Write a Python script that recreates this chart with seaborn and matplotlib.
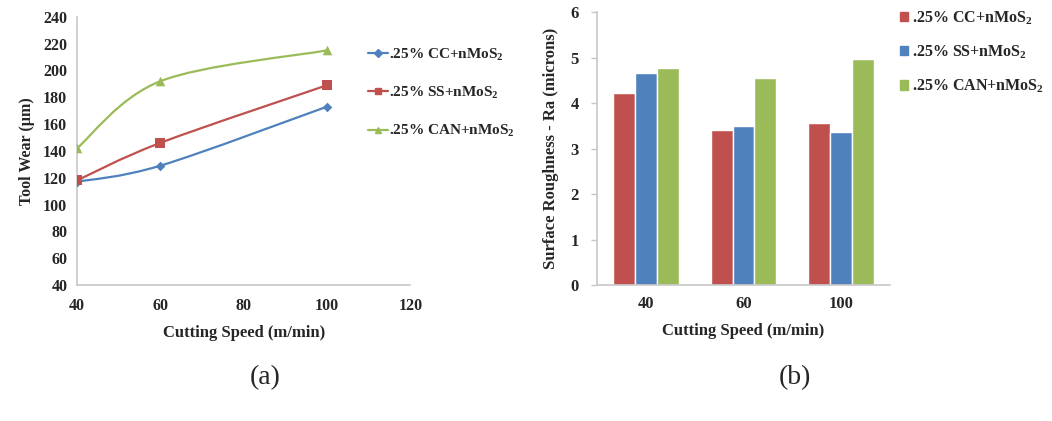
import numpy as np
import pandas as pd
import matplotlib
matplotlib.use('Agg')
import matplotlib.pyplot as plt
from matplotlib.path import Path
from matplotlib.patches import PathPatch, Patch
from matplotlib.lines import Line2D
import seaborn as sns

### data
speeds = [40, 60, 100]
series = ['.25% CC+nMoS$_2$', '.25% SS+nMoS$_2$', '.25% CAN+nMoS$_2$']
tool_wear_cc = [117, 129, 173]
tool_wear_ss = [118, 146, 189]
tool_wear_can = [142, 192, 215]
rough_cc = [4.21, 3.40, 3.56]
rough_ss = [4.67, 3.50, 3.36]
rough_can = [4.77, 4.54, 4.97]

colors = ['#4F81BD', '#C0504D', '#9BBB59']
bar_colors = ['#C0504D', '#4F81BD', '#9BBB59']

sns.set_style('white')
plt.rcParams['font.family'] = ['Liberation Serif', 'DejaVu Serif']
plt.rcParams['font.weight'] = 'bold'
plt.rcParams['mathtext.fontset'] = 'custom'
plt.rcParams['mathtext.rm'] = 'Liberation Serif:bold'
plt.rcParams['mathtext.it'] = 'Liberation Serif:bold'
plt.rcParams['mathtext.bf'] = 'Liberation Serif:bold'
plt.rcParams['mathtext.default'] = 'rm'

wear = pd.DataFrame({
    'speed': speeds * 3,
    'wear': tool_wear_cc + tool_wear_ss + tool_wear_can,
    'series': [s for s in series for _ in speeds],
})
rough = pd.DataFrame({
    'speed': [str(v) for v in speeds] * 3,
    'ra': rough_cc + rough_ss + rough_can,
    'series': [s for s in series for _ in speeds],
})

fig = plt.figure(figsize=(10.52, 4.21), dpi=100)
ax1 = fig.add_axes([0.0732, 0.323, 0.3168, 0.637])
ax2 = fig.add_axes([0.5675, 0.323, 0.2785, 0.6485])

### (a) tool wear, smoothed lines like excel
def smooth_path(xs, ys):
    pts = np.column_stack([xs, ys]).astype(float)
    n = len(pts)
    verts = [pts[0]]
    codes = [Path.MOVETO]
    for i in range(n - 1):
        p_prev = pts[max(i - 1, 0)]
        p_next2 = pts[min(i + 2, n - 1)]
        c1 = pts[i] + (pts[i + 1] - p_prev) / 6
        c2 = pts[i + 1] - (p_next2 - pts[i]) / 6
        verts += [c1, c2, pts[i + 1]]
        codes += [Path.CURVE4] * 3
    return Path(verts, codes)

for s, c in zip(series, colors):
    sub = wear[wear['series'] == s]
    ax1.add_patch(PathPatch(smooth_path(sub['speed'], sub['wear']), fill=False,
                            edgecolor=c, lw=1.6, zorder=2))

marks = {series[0]: 'D', series[1]: 's', series[2]: '^'}
sizes = {series[0]: 24, series[1]: 60, series[2]: 48}
for s, c in zip(series, colors):
    sub = wear[wear['series'] == s]
    sns.scatterplot(data=sub, x='speed', y='wear', color=c, marker=marks[s],
                    s=sizes[s], edgecolor=c, linewidth=0, ax=ax1, legend=False, zorder=3)

ax1.set_xlim(40, 120)
ax1.set_ylim(40, 240)
ax1.set_xticks(range(40, 121, 20))
ax1.set_yticks(range(40, 241, 20))
ax1.set_xlabel('Cutting Speed (m/min)', fontsize=12, fontweight='bold', labelpad=8)
ax1.set_ylabel('Tool Wear (µm)', fontsize=11.5, fontweight='bold', labelpad=6)
ax1.tick_params(axis='both', length=0, labelsize=11.5)
ax1.tick_params(axis='y', pad=7)
ax1.tick_params(axis='x', pad=9)
for side in ['top', 'right']:
    ax1.spines[side].set_visible(False)
for side in ['left', 'bottom']:
    ax1.spines[side].set_color('#C8C8C8')
    ax1.spines[side].set_linewidth(1.2)

handles1 = [Line2D([], [], color=c, marker=marks[s], markersize=5 if s != series[0] else 4,
                   lw=1.6) for s, c in zip(series, colors)]
fig.legend(handles1, series, loc='upper left', bbox_to_anchor=(0.337, 0.922),
           frameon=False, fontsize=11, labelspacing=1.45, handlelength=1.3,
           handletextpad=0.05)

### (b) surface roughness bars
sns.barplot(data=rough, x='speed', y='ra', hue='series', palette=bar_colors,
            width=0.67, ax=ax2, legend=False, saturation=1)
ax2.set_xlim(-0.5, 2.5)
ax2.set_ylim(0, 6)
ax2.set_yticks(range(0, 7))
ax2.set_xlabel('Cutting Speed (m/min)', fontsize=12, fontweight='bold', labelpad=8)
ax2.set_ylabel('Surface Roughness - Ra (microns)', fontsize=12, fontweight='bold', labelpad=8)
ax2.tick_params(axis='x', length=0, labelsize=12, pad=8)
ax2.tick_params(axis='y', length=4, width=1, color='#C8C8C8', labelsize=12, pad=9, left=True)
for side in ['top', 'right']:
    ax2.spines[side].set_visible(False)
for side in ['left', 'bottom']:
    ax2.spines[side].set_color('#C8C8C8')
    ax2.spines[side].set_linewidth(1.2)

handles2 = [Patch(color=c) for c in bar_colors]
fig.legend(handles2, series, loc='upper left', bbox_to_anchor=(0.842, 1.012),
           frameon=False, fontsize=11.5, labelspacing=1.05, handlelength=0.5,
           handleheight=0.5, handletextpad=0.25)

fig.text(265 / 1052, 1 - 378 / 421, '(a)', ha='center', va='center', fontsize=20, fontweight='normal')
fig.text(795 / 1052, 1 - 378 / 421, '(b)', ha='center', va='center', fontsize=20, fontweight='normal')

fig.savefig('out.png', dpi=100, facecolor='white')
